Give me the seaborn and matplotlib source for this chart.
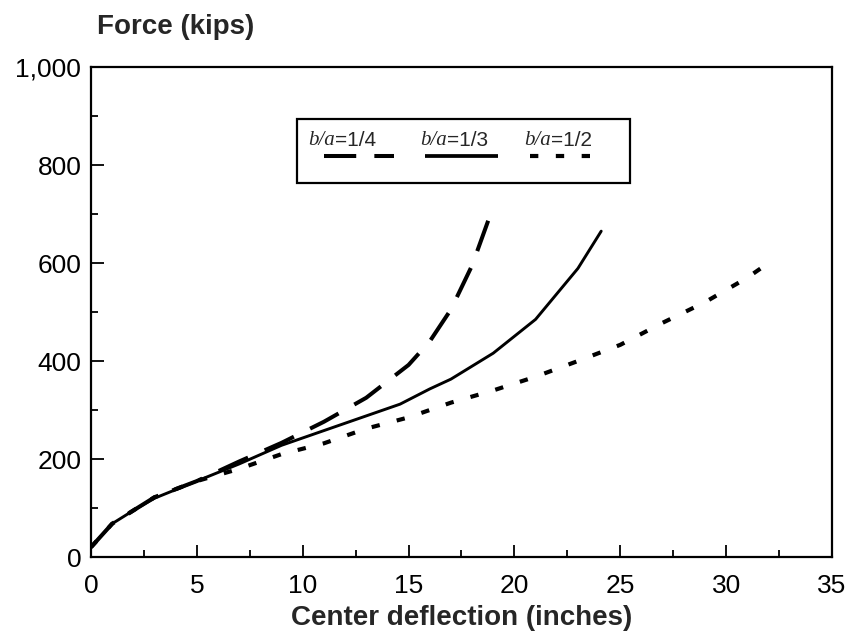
import numpy as np
import pandas as pd
import matplotlib
matplotlib.use("Agg")
import matplotlib.pyplot as plt
import matplotlib.ticker as mticker
from matplotlib.lines import Line2D
from matplotlib.patches import Rectangle
import seaborn as sns

# ---- data ----
x_q = [0, 1, 2, 3, 5, 7, 9, 11, 13, 15, 16, 17, 18, 19]
y_q = [20, 68, 95, 122, 155, 195, 233, 276, 325, 392, 440, 505, 595, 715]

x_t = [0, 1, 2, 3, 5, 7, 9, 11, 13, 14.6, 16, 17, 19, 21, 23, 24.1]
y_t = [20, 68, 95, 120, 155, 190, 228, 258, 288, 312, 343, 363, 416, 485, 589, 665]

x_h = [0, 1, 2, 3, 5, 7, 9, 11, 13, 15, 17, 19, 21, 23, 25, 27, 29, 31, 32]
y_h = [20, 68, 95, 122, 155, 180, 210, 232, 262, 285, 315, 340, 368, 400, 433, 478, 520, 570, 600]

labels = ["1/4", "1/3", "1/2"]
x_ticks = [0, 5, 10, 15, 20, 25, 30, 35]
y_ticks = [0, 200, 400, 600, 800, 1000]

sns.set_style("ticks")
plt.rcParams["font.family"] = ["Liberation Sans", "DejaVu Sans"]

fig = plt.figure(figsize=(8.48, 6.43), dpi=100)
ax = fig.add_axes([0.1073, 0.1337, 0.8738, 0.7621])

df_q = pd.DataFrame({"x": x_q, "y": y_q})
df_t = pd.DataFrame({"x": x_t, "y": y_t})
df_h = pd.DataFrame({"x": x_h, "y": y_h})

dash_q = (8, 4.5)
dash_h = (2.0, 4.2)
lw_q, lw_t, lw_h = 2.9, 2.1, 3.0
sns.lineplot(data=df_q, x="x", y="y", ax=ax, color="black", lw=lw_q,
             sort=False, estimator=None)
ax.lines[-1].set_dashes(dash_q)
sns.lineplot(data=df_t, x="x", y="y", ax=ax, color="black", lw=lw_t,
             sort=False, estimator=None)
sns.lineplot(data=df_h, x="x", y="y", ax=ax, color="black", lw=lw_h,
             sort=False, estimator=None)
ax.lines[-1].set_dashes(dash_h)

ax.set_xlim(0, 35)
ax.set_ylim(0, 1000)
ax.set_xticks(x_ticks)
ax.set_yticks(y_ticks)
ax.xaxis.set_minor_locator(mticker.MultipleLocator(2.5))
ax.yaxis.set_minor_locator(mticker.MultipleLocator(100))
ax.yaxis.set_major_formatter(mticker.FuncFormatter(lambda v, p: f"{int(v):,}"))
ax.tick_params(axis="both", which="major", direction="in", length=9, width=1.3,
               labelsize=19, color="black", labelcolor="black", pad=7)
ax.tick_params(axis="both", which="minor", direction="in", length=5, width=1.3,
               color="black")
ax.tick_params(axis="x", pad=12)
for s in ax.spines.values():
    s.set_visible(True)
    s.set_linewidth(1.6)
    s.set_color("black")

ax.set_xlabel("Center deflection (inches)", fontsize=20, fontweight="bold", labelpad=5)
ax.set_ylabel("")
fig.text(0.114, 0.958, "Force (kips)", fontsize=20, fontweight="bold",
         ha="left", va="center")

# ---- legend (manual layout: labels above handles) ----
def fx(px):
    return (px - 91) / 741.0
def fy(py):
    return (557 - py) / 490.0

ax.add_patch(Rectangle((fx(297), fy(183)), fx(630) - fx(297), fy(119) - fy(183),
                       transform=ax.transAxes, fill=False, lw=1.6, ec="black",
                       zorder=5))
bounds = [335, 447, 551]
handles_x = [(324, 394), (425, 498), (530, 598)]
styles = [dict(lw=lw_q, dashes=dash_q), dict(lw=lw_t + 0.6), dict(lw=lw_h, dashes=dash_h)]
for lab, b, (h0, h1), st in zip(labels, bounds, handles_x, styles):
    ax.text(fx(b), fy(140), "b/a", transform=ax.transAxes, ha="right", va="center",
            fontsize=15, fontstyle="italic", family=["Liberation Serif", "DejaVu Serif"])
    ax.text(fx(b), fy(140), "=" + lab, transform=ax.transAxes, ha="left", va="center",
            fontsize=15)
    ln = Line2D([fx(h0), fx(h1)], [fy(156), fy(156)], transform=ax.transAxes,
                color="black", solid_capstyle="butt", **st)
    ax.add_line(ln)

fig.savefig("out.png", dpi=100, facecolor="white")
